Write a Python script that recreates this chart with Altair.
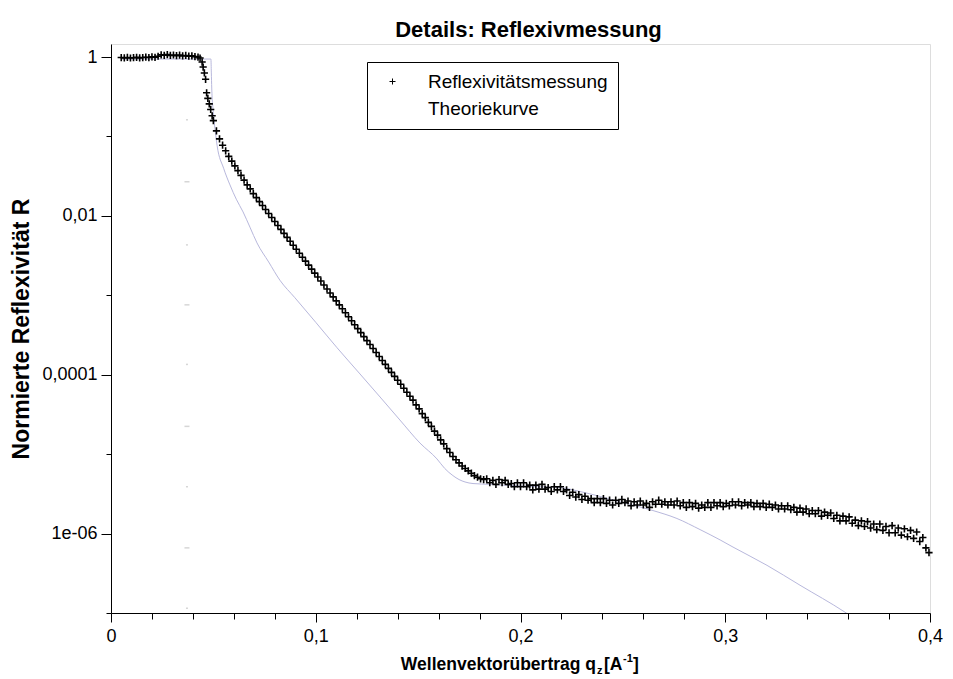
import altair as alt
import pandas as pd

# ---------------- data ----------------
q_meas = [
    0.0050, 0.0065, 0.0080, 0.0095, 0.0110, 0.0125, 0.0140, 0.0155, 0.0170, 0.0185,
    0.0200, 0.0215, 0.0230, 0.0245, 0.0260, 0.0275, 0.0290, 0.0305, 0.0320, 0.0335,
    0.0350, 0.0365, 0.0380, 0.0395, 0.0410, 0.0425, 0.0435, 0.0445, 0.0450, 0.0456,
    0.0462, 0.0467, 0.0473, 0.0480, 0.0487, 0.0494,
    0.0500, 0.0515, 0.0530, 0.0545, 0.0560, 0.0575, 0.0590, 0.0605, 0.0620, 0.0635,
    0.0650, 0.0665, 0.0680, 0.0695, 0.0710, 0.0725, 0.0740, 0.0755, 0.0770, 0.0785,
    0.0800, 0.0815, 0.0830, 0.0845, 0.0860, 0.0875, 0.0890, 0.0905, 0.0920, 0.0935,
    0.0950, 0.0965, 0.0980, 0.0995, 0.1010, 0.1025, 0.1040, 0.1055, 0.1070, 0.1085,
    0.1100, 0.1115, 0.1130, 0.1145, 0.1160, 0.1175, 0.1190, 0.1205, 0.1220, 0.1235,
    0.1250, 0.1265, 0.1280, 0.1295, 0.1310, 0.1325, 0.1340, 0.1355, 0.1370, 0.1385,
    0.1400, 0.1415, 0.1430, 0.1445, 0.1460, 0.1475, 0.1490, 0.1505, 0.1520, 0.1535,
    0.1550, 0.1565, 0.1580, 0.1595, 0.1610, 0.1625, 0.1640, 0.1655, 0.1670, 0.1685,
    0.1700, 0.1715, 0.1730, 0.1745, 0.1760, 0.1775, 0.1790, 0.1805, 0.1820,
    0.1835, 0.1850, 0.1865, 0.1880, 0.1895, 0.1910, 0.1925, 0.1940, 0.1955, 0.1970,
    0.1985, 0.2000, 0.2015, 0.2030, 0.2045, 0.2060, 0.2075, 0.2090, 0.2105, 0.2120,
    0.2135, 0.2150, 0.2165, 0.2180, 0.2195, 0.2210, 0.2225, 0.2240, 0.2255, 0.2270,
    0.2285, 0.2300, 0.2315, 0.2330, 0.2345, 0.2360, 0.2375, 0.2390, 0.2405, 0.2420,
    0.2435, 0.2450, 0.2465, 0.2480, 0.2495, 0.2510, 0.2525, 0.2540, 0.2555, 0.2570,
    0.2585, 0.2600, 0.2615, 0.2630, 0.2645, 0.2660, 0.2675, 0.2690, 0.2705, 0.2720,
    0.2735, 0.2750, 0.2765, 0.2780, 0.2795, 0.2810, 0.2825, 0.2840, 0.2855, 0.2870,
    0.2885, 0.2900, 0.2915, 0.2930, 0.2945, 0.2960, 0.2975, 0.2990, 0.3005, 0.3020,
    0.3035, 0.3050, 0.3065, 0.3080, 0.3095, 0.3110, 0.3125, 0.3140, 0.3155, 0.3170,
    0.3185, 0.3200, 0.3215, 0.3230, 0.3245, 0.3260, 0.3275, 0.3290, 0.3305, 0.3320,
    0.3335, 0.3350, 0.3365, 0.3380, 0.3395, 0.3410, 0.3425, 0.3440, 0.3455, 0.3470,
    0.3485, 0.3500, 0.3515, 0.3530, 0.3545, 0.3560, 0.3575, 0.3590, 0.3605, 0.3620,
    0.3635, 0.3650, 0.3665, 0.3680, 0.3695, 0.3710, 0.3725, 0.3740, 0.3755, 0.3770,
    0.3785, 0.3800, 0.3815, 0.3830, 0.3845, 0.3860, 0.3875, 0.3890, 0.3905, 0.3920,
    0.3935, 0.3950, 0.3965, 0.3980, 0.3995,
]
logR_meas = [
    -0.006, -0.010, -0.005, -0.012, -0.008, -0.004, -0.010, -0.006, -0.002, -0.006,
    0.002, -0.003, 0.010, 0.028, 0.022, 0.030, 0.020, 0.026, 0.018, 0.024,
    0.015, 0.020, 0.012, 0.015, 0.005, 0.000, -0.012, -0.063, -0.126, -0.20,
    -0.28, -0.45, -0.52, -0.59, -0.66, -0.74,
    -0.80, -0.93, -1.03, -1.11, -1.18, -1.25, -1.31, -1.37, -1.43, -1.49,
    -1.55, -1.61, -1.66, -1.72, -1.77, -1.82, -1.87, -1.92, -1.97, -2.02,
    -2.07, -2.12, -2.17, -2.22, -2.27, -2.32, -2.37, -2.42, -2.47, -2.52,
    -2.57, -2.62, -2.67, -2.72, -2.77, -2.82, -2.87, -2.92, -2.97, -3.02,
    -3.07, -3.12, -3.17, -3.22, -3.27, -3.32, -3.37, -3.42, -3.47, -3.52,
    -3.57, -3.62, -3.67, -3.72, -3.77, -3.82, -3.87, -3.92, -3.97, -4.02,
    -4.07, -4.12, -4.17, -4.22, -4.27, -4.32, -4.38, -4.43, -4.49, -4.54,
    -4.60, -4.65, -4.71, -4.76, -4.82, -4.87, -4.93, -4.98, -5.03, -5.07,
    -5.11, -5.15, -5.18, -5.21, -5.24, -5.27, -5.29, -5.31, -5.32,
    -5.31, -5.36, -5.33, -5.38, -5.32, -5.36, -5.33, -5.38, -5.37, -5.41,
    -5.36, -5.41, -5.36, -5.41, -5.39, -5.45, -5.39, -5.44, -5.38, -5.44,
    -5.42, -5.47, -5.41, -5.45, -5.41, -5.47, -5.45, -5.52, -5.48, -5.54,
    -5.51, -5.57, -5.53, -5.58, -5.56, -5.61, -5.56, -5.61, -5.56, -5.62,
    -5.58, -5.64, -5.58, -5.62, -5.57, -5.61, -5.59, -5.65, -5.60, -5.64,
    -5.59, -5.64, -5.62, -5.67, -5.60, -5.63, -5.58, -5.63, -5.60, -5.64,
    -5.60, -5.64, -5.59, -5.65, -5.61, -5.67, -5.61, -5.66, -5.62, -5.68,
    -5.64, -5.67, -5.61, -5.67, -5.61, -5.65, -5.61, -5.66, -5.62, -5.65,
    -5.60, -5.64, -5.60, -5.65, -5.61, -5.64, -5.61, -5.66, -5.62, -5.66,
    -5.62, -5.67, -5.63, -5.67, -5.64, -5.69, -5.65, -5.69, -5.65, -5.70,
    -5.67, -5.73, -5.68, -5.73, -5.69, -5.75, -5.71, -5.75, -5.71, -5.78,
    -5.73, -5.77, -5.74, -5.81, -5.77, -5.84, -5.78, -5.84, -5.79, -5.87,
    -5.83, -5.90, -5.84, -5.91, -5.85, -5.93, -5.88, -5.95, -5.88, -5.96,
    -5.91, -5.99, -5.90, -5.99, -5.93, -6.02, -5.94, -6.04, -5.96, -6.06,
    -5.98, -6.10, -6.05, -6.18, -6.24,
]

q_theo = [
    0.0050, 0.0200, 0.0350, 0.0488, 0.0490, 0.0492, 0.0500, 0.0510, 0.0518, 0.0550,
    0.0581, 0.0612, 0.0645, 0.0680, 0.0713, 0.0770, 0.0825, 0.0898, 0.1000, 0.1104,
    0.1216, 0.1314, 0.1411, 0.1509, 0.1592, 0.1630, 0.1670, 0.1700, 0.1729, 0.1768,
    0.1850, 0.1915, 0.2081, 0.2193, 0.2290, 0.2486, 0.2647, 0.2764, 0.2877, 0.2975,
    0.3038, 0.3204, 0.3365, 0.3585, 0.3620,
]
logR_theo = [
    -0.025, -0.025, -0.025, -0.025, -0.20, -0.39, -0.70, -0.95, -1.11, -1.40,
    -1.61, -1.79, -1.95, -2.15, -2.34, -2.58, -2.81, -3.03, -3.34, -3.66,
    -3.99, -4.28, -4.57, -4.86, -5.06, -5.18, -5.27, -5.32, -5.35, -5.37,
    -5.38, -5.39, -5.41, -5.42, -5.47, -5.60, -5.71, -5.81, -5.95, -6.08,
    -6.17, -6.40, -6.65, -6.99, -7.05,
]

# faint grey dashes seen at q ~ 0.037
q_dash = [0.0371, 0.0371, 0.0371, 0.0371, 0.0371, 0.0371, 0.0371, 0.0371, 0.0371]
logR_dash = [-0.79, -1.57, -2.365, -3.12, -3.87, -4.65, -5.41, -6.18, -6.94]
kind_dash = ["s", "l", "s", "l", "s", "l", "s", "l", "s"]

series_names = ["Reflexivitätsmessung", "Theoriekurve"]

x_ticks = [0, 0.02, 0.04, 0.06, 0.08, 0.1, 0.12, 0.14, 0.16, 0.18, 0.2,
           0.22, 0.24, 0.26, 0.28, 0.3, 0.32, 0.34, 0.36, 0.38, 0.4]
x_major = [0, 0.1, 0.2, 0.3, 0.4]
x_labels = ["0", "0,1", "0,2", "0,3", "0,4"]
y_ticks = [1, 0.1, 0.01, 0.001, 0.0001, 1e-05, 1e-06, 1e-07]
y_major = [1, 0.01, 0.0001, 1e-06]
y_labels = ["1", "0,01", "0,0001", "1e-06"]

title_text = "Details: Reflexivmessung"
y_title = "Normierte Reflexivität R"
x_title_parts = ["Wellenvektorübertrag q", "z", "[A", "-1", "]"]

FONT = "Liberation Sans"

# ---------------- tables ----------------
df_meas = pd.DataFrame({"q": q_meas, "R": [10 ** v for v in logR_meas],
                        "series": series_names[0]})
df_theo = pd.DataFrame({"q": q_theo, "R": [10 ** v for v in logR_theo],
                        "series": series_names[1]})
df_dash = pd.DataFrame({"q": q_dash, "R": [10 ** v for v in logR_dash], "kind": kind_dash})

# ---------------- axes ----------------
def chain(vals, labs, test):
    expr = "''"
    for v, l in reversed(list(zip(vals, labs))):
        expr = f"{test(v)} ? '{l}' : ({expr})"
    return expr

x_test = lambda v: f"abs(datum.value - {v}) < 1e-6"
y_test = lambda v: f"abs(datum.value / {v} - 1) < 0.001"

x_label_expr = chain(x_major, x_labels, x_test)
y_label_expr = chain(y_major, y_labels, y_test)
x_major_test = " || ".join(x_test(v) for v in x_major)
y_major_test = " || ".join(y_test(v) for v in y_major)

x_scale = alt.Scale(domain=[0, 0.4], nice=False, zero=False)
y_scale = alt.Scale(type="log", domain=[1e-07, 1.46], nice=False)

x_axis = alt.Axis(values=x_ticks, labelExpr=x_label_expr, title=None, grid=False,
                  tickSize={"condition": {"test": x_major_test, "value": 9}, "value": 6},
                  labelFont=FONT, labelFontSize=18, labelColor="black",
                  labelPadding=5, labelFlush=False, labelOverlap=False,
                  domainColor="black", tickColor="black")
y_axis = alt.Axis(values=y_ticks, labelExpr=y_label_expr, title=y_title, grid=False,
                  tickSize={"condition": {"test": y_major_test, "value": 10}, "value": 5},
                  labelFont=FONT, labelFontSize=18, labelColor="black",
                  labelPadding=4, labelOverlap=False, labelFlush=False,
                  titleFont=FONT, titleFontSize=23, titleFontWeight="bold",
                  titleColor="black", titlePadding=8,
                  domainColor="black", tickColor="black")

plus_path = "M-1,0L1,0M0,-1L0,1"

points = alt.Chart(df_meas).mark_point(filled=False, strokeWidth=1.6, size=52,
                                       color="black", opacity=1).encode(
    x=alt.X("q:Q", scale=x_scale, axis=x_axis),
    y=alt.Y("R:Q", scale=y_scale, axis=y_axis),
    shape=alt.Shape("series:N",
                    scale=alt.Scale(domain=series_names, range=[plus_path, "M0,0"]),
                    legend=alt.Legend(title=None, orient="none", legendX=256, legendY=18,
                                      strokeColor="black", fillColor="white",
                                      padding=10, symbolOffset=6, labelOffset=26,
                                      rowPadding=7, labelFont=FONT, labelFontSize=19,
                                      labelColor="black", labelLimit=400,
                                      symbolSize=36, symbolStrokeColor="black",
                                      symbolStrokeWidth=1, symbolFillColor="transparent",
                                      cornerRadius=0)),
)

theory = alt.Chart(df_theo).mark_line(color="#b8b8dc", strokeWidth=1, clip=True,
                                      interpolate="monotone").encode(
    x=alt.X("q:Q", scale=x_scale),
    y=alt.Y("R:Q", scale=y_scale),
)

dashes = alt.Chart(df_dash).mark_tick(orient="horizontal", thickness=1.5,
                                      color="#c4c4c4").encode(
    x=alt.X("q:Q", scale=x_scale),
    y=alt.Y("R:Q", scale=y_scale),
    size=alt.Size("kind:N", scale=alt.Scale(domain=["s", "l"], range=[2, 5]), legend=None),
)

# x-axis title with subscript / superscript made of text pieces
def piece(txt, x, y, size, align="left"):
    return alt.Chart(pd.DataFrame({"t": [txt]})).mark_text(
        font=FONT, fontSize=size, fontWeight="bold", color="black",
        align=align, baseline="alphabetic").encode(
        text="t:N", x=alt.value(x), y=alt.value(y))

xt = [
    piece(x_title_parts[0], 485, 626, 17.5, "right"),
    piece(x_title_parts[1], 486, 630, 11),
    piece(x_title_parts[2], 493, 626, 17.5),
    piece(x_title_parts[3], 512, 618, 11),
    piece(x_title_parts[4], 522, 626, 17.5),
]

chart = alt.layer(theory, dashes, points, *xt).properties(
    width=819, height=569,
    padding={"left": 111, "top": 44, "right": 23, "bottom": 66},
    autosize=alt.AutoSizeParams(type="none"),
    title=alt.TitleParams(title_text, font=FONT, fontSize=22, fontWeight="bold",
                          color="black", anchor="middle", dx=8, offset=2),
).configure_view(stroke=None).configure(background="white")

chart.save("out.html", embed_options={"renderer": "svg", "actions": False})
